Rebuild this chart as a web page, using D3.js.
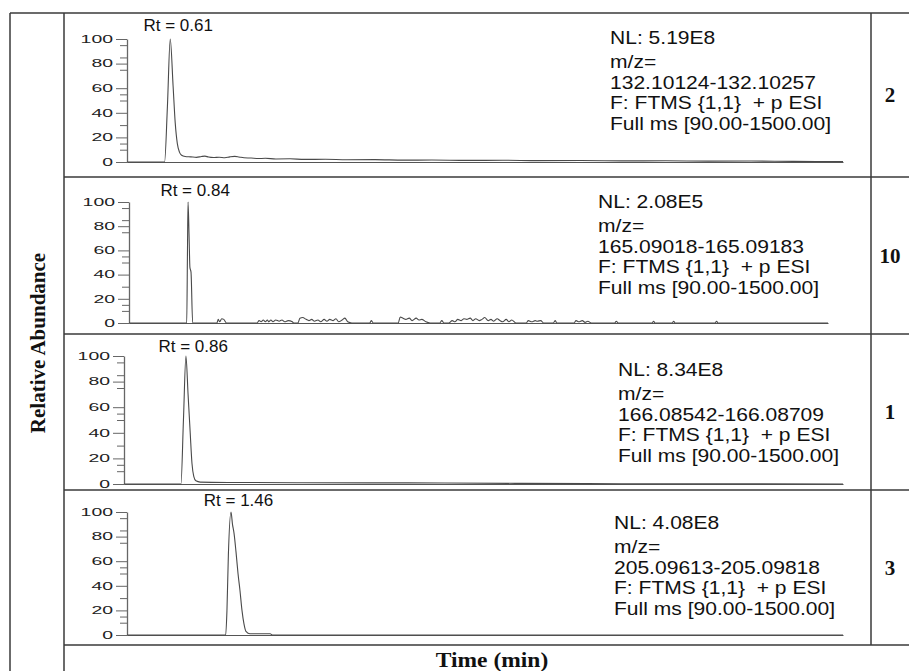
<!DOCTYPE html>
<html>
<head>
<meta charset="utf-8">
<script src="https://cdnjs.cloudflare.com/ajax/libs/d3/7.8.5/d3.min.js"></script>
<style>
  body { margin: 0; background: #fff; }
  svg { display: block; }
</style>
</head>
<body>
<div id="chart"></div>
<script>
// ---- data ----
var compoundIds = ["2", "10", "1", "3"];
var retentionTimes = [0.61, 0.84, 0.86, 1.46];
var nlValues = ["5.19E8", "2.08E5", "8.34E8", "4.08E8"];
var mzRanges = ["132.10124-132.10257", "165.09018-165.09183", "166.08542-166.08709", "205.09613-205.09818"];
var scanFilter = "F: FTMS {1,1}  + p ESI";
var scanRange = "Full ms [90.00-1500.00]";
var timeDomain = [0, 10.1];
var yTicks = [0, 20, 40, 60, 80, 100];
var yMinorTicks = [10, 15, 30, 50, 55, 75, 85, 95];

// [time (min), relative abundance]
var trace1 = [[0,0],[0.53,0],[0.57,45],[0.61,100],[0.65,62],[0.68,32],[0.71,15],[0.74,8],[0.77,5.5],[0.82,4.5],[0.9,4.2],
  [0.98,3.8],[1.05,4.5],[1.1,4.8],[1.15,4],[1.22,3.6],[1.3,3.9],[1.38,3.5],[1.45,4.2],[1.52,4.6],[1.58,4.1],[1.65,3.4],
  [1.75,3.2],[1.85,2.8],[1.95,3.0],[2.1,2.5],[2.3,2.6],[2.5,2.1],[2.8,2.2],[3.1,1.8],[3.5,1.9],[3.9,1.5],[4.3,1.6],
  [4.8,1.3],[5.3,1.4],[5.8,1.1],[6.4,1.2],[7.0,0.9],[7.6,1.0],[8.2,0.7],[8.8,0.8],[9.4,0.5],[10.1,0.4]];

var trace2 = [[0,0],[0.834,0],[0.845,60],[0.853,100],[0.868,72],[0.88,46],[0.896,42],[0.92,0],
  [1.27,0],[1.29,3],[1.31,1],[1.34,3.5],[1.37,3],[1.41,0],
  [1.85,0],[1.88,2],[1.91,1],[1.94,2.5],[1.97,1],[2.0,2.5],[2.02,1],[2.05,2.5],[2.08,1],[2.12,2.5],[2.17,1.5],
  [2.21,2.5],[2.25,1],[2.3,2],[2.36,1],[2.38,0],
  [2.44,0],[2.47,4],[2.51,4.5],[2.56,3],[2.6,2],[2.64,3],[2.68,1.5],[2.73,2.5],[2.77,1],[2.82,3],[2.86,1.5],
  [2.9,3],[2.95,2],[2.99,3.5],[3.03,1],[3.08,2.5],[3.12,4],[3.16,1],[3.22,0],
  [3.48,0],[3.5,2],[3.53,0],
  [3.89,0],[3.92,5],[3.96,4],[4.0,3],[4.05,4],[4.09,2],[4.15,4],[4.19,2.5],[4.23,3],[4.29,1],[4.35,0],
  [4.49,0],[4.52,2],[4.55,0],
  [4.62,0],[4.67,2],[4.71,1],[4.75,3],[4.8,2],[4.84,3.5],[4.88,3],[4.93,4],[4.97,2],[5.01,3.5],[5.06,2],
  [5.1,3],[5.14,4.5],[5.19,2],[5.23,3],[5.27,1.5],[5.32,3.5],[5.36,2],[5.4,1],[5.45,3],[5.49,1],[5.53,2.5],[5.59,0],
  [5.74,0],[5.77,2],[5.82,1],[5.87,2],[5.9,1.5],[5.95,2],[5.99,0],
  [6.13,0],[6.16,2],[6.18,0],
  [6.43,0],[6.46,2],[6.5,1],[6.55,2],[6.59,0.5],[6.63,1.5],[6.68,0],
  [7.02,0],[7.04,1.5],[7.07,0],
  [7.56,0],[7.58,1.5],[7.6,0],
  [7.85,0],[7.87,1.5],[7.89,0],
  [8.47,0],[8.49,1.5],[8.51,0],
  [10.1,0]];

var trace3 = [[0,0],[0.8,0],[0.835,50],[0.87,100],[0.9,70],[0.93,40],[0.955,16],[0.98,6],[1.01,2.5],[1.07,1.5],
  [1.5,1.2],[2.5,1],[3.5,0.9],[4.5,0.8],[5.5,0.5],[6.5,0.3],[7.5,0.2],[10.1,0]];

var trace4 = [[0,0],[1.392,0],[1.41,20],[1.43,65],[1.467,100],[1.488,90],[1.509,83],[1.537,68],[1.566,50],[1.594,36],
  [1.622,20],[1.65,9],[1.678,3],[1.735,1],[2.02,1],[2.05,0],[10.1,0]];

var traces = [trace1, trace2, trace3, trace4];

// ---- layout (pixels) ----
var width = 909, height = 671;
var panels = [
  {top: 13,  bottom: 177, x0: 127, x1: 843, y0: 162, y100: 39,  textX: 610, textY: 44,  rtDy: -8},
  {top: 177, bottom: 334, x0: 129, x1: 828, y0: 323, y100: 202, textX: 598, textY: 208, rtDy: -6},
  {top: 334, bottom: 490, x0: 124, x1: 843, y0: 484, y100: 356, textX: 618, textY: 376, rtDy: -4},
  {top: 490, bottom: 645, x0: 127, x1: 843, y0: 635, y100: 512, textX: 614, textY: 529, rtDy: -6}
];
var lineColor = "#3a3a3a";
var textLines = [0, 24, 44.5, 65, 85.5];
var infoStretch = 1.17;

var svg = d3.select("#chart").append("svg")
    .attr("width", width).attr("height", height)

// table frame
var frame = svg.append("g").attr("stroke", lineColor).attr("stroke-width", 1.5)
frame.append("line").attr("x1", 10).attr("x2", width).attr("y1", 13).attr("y2", 13)
frame.append("line").attr("x1", 10).attr("x2", 10).attr("y1", 13).attr("y2", height)
frame.append("line").attr("x1", 64).attr("x2", 64).attr("y1", 13).attr("y2", height)
frame.append("line").attr("x1", 871).attr("x2", 871).attr("y1", 13).attr("y2", 645)
panels.forEach(function(p){
    frame.append("line").attr("x1", 64).attr("x2", width).attr("y1", p.bottom).attr("y2", p.bottom)
})

// side + bottom titles
svg.append("text")
    .attr("transform", "translate(45,343) rotate(-90)")
    .attr("text-anchor", "middle")
    .style("font-family", "'Liberation Serif', 'Times New Roman', serif")
    .style("font-weight", "bold").style("font-size", "21px").attr("fill", "#111")
    .text("Relative Abundance")

svg.append("text")
    .attr("transform", "translate(492,667) scale(1.12,1)")
    .attr("text-anchor", "middle")
    .style("font-family", "'Liberation Serif', 'Times New Roman', serif")
    .style("font-weight", "bold").style("font-size", "21px").attr("fill", "#111")
    .text("Time (min)")

panels.forEach(function(p, i){
    var g = svg.append("g")

    var x = d3.scaleLinear().domain(timeDomain).range([p.x0, p.x1])
    var y = d3.scaleLinear().domain([0, 100]).range([p.y0, p.y100])

    // minor ticks
    g.append("g").attr("transform", "translate(" + p.x0 + ",0)")
        .call(d3.axisLeft(y).tickValues(yMinorTicks).tickFormat("").tickSize(7).tickSizeOuter(0))
        .call(function(a){ a.select(".domain").remove() })
        .selectAll("line").attr("stroke", "#666")

    // major ticks + labels (stretched wide like the scan)
    var yax = g.append("g").attr("transform", "translate(" + p.x0 + ",0)")
        .call(d3.axisLeft(y).tickValues(yTicks).tickSize(11).tickSizeOuter(0))
    yax.select(".domain").attr("stroke", "#666").attr("stroke-width", 1.3)
    yax.selectAll("line").attr("stroke", "#666")
    yax.selectAll("text")
        .attr("x", -14 / 1.85)
        .attr("transform", "scale(1.85,1)")
        .style("font-family", "'Liberation Sans', Arial, sans-serif")
        .style("font-size", "10.5px").attr("fill", "#222")

    // time baseline
    g.append("g").attr("transform", "translate(0," + p.y0 + ")")
        .call(d3.axisBottom(x).ticks(0).tickSizeOuter(0))
        .select(".domain").attr("stroke", "#555").attr("stroke-width", 1.2)

    // chromatogram trace
    var line = d3.line()
        .x(function(d){ return x(d[0]) })
        .y(function(d){ return y(d[1]) })
        .curve(d3.curveMonotoneX)
    g.append("path").datum(traces[i])
        .attr("d", line)
        .attr("fill", "none").attr("stroke", "#4a4a4a").attr("stroke-width", 1.1)

    // peak label
    g.append("text")
        .attr("x", x(retentionTimes[i]) + 8).attr("y", y(100) + p.rtDy)
        .attr("text-anchor", "middle")
        .style("font-family", "'Liberation Sans', Arial, sans-serif")
        .style("font-size", "17px").attr("fill", "#111")
        .text("Rt = " + retentionTimes[i].toFixed(2))

    // scan info block, slightly stretched so the lines stay tight like the scan
    var info = ["NL: " + nlValues[i], "m/z=", mzRanges[i], scanFilter, scanRange]
    g.selectAll(".info").data(info).enter().append("text")
        .attr("class", "info")
        .attr("transform", function(d, k){
            return "translate(" + p.textX + "," + (p.textY + textLines[k]) + ") scale(" + infoStretch + ",1)"
        })
        .style("font-family", "'Liberation Sans', Arial, sans-serif")
        .style("font-size", "18px").style("white-space", "pre").attr("fill", "#111")
        .text(function(d){ return d })

    // compound number
    g.append("text")
        .attr("x", 890).attr("y", (p.top + p.bottom) / 2 + 7)
        .attr("text-anchor", "middle")
        .style("font-family", "'Liberation Serif', 'Times New Roman', serif")
        .style("font-weight", "bold").style("font-size", "21px").attr("fill", "#111")
        .text(compoundIds[i])
})
</script>
</body>
</html>
